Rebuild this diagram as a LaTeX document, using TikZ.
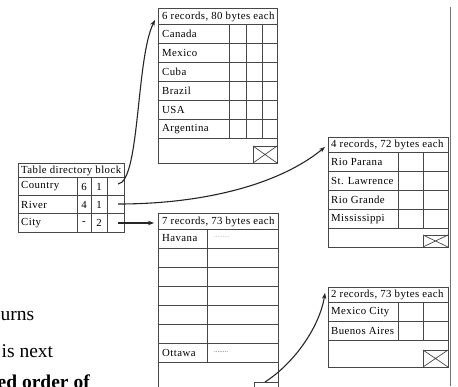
\documentclass[tikz,border=0pt]{standalone}
\usepackage{fontspec}
\setmainfont{Liberation Serif}
\newfontfamily\cellfont[LetterSpace=4]{Liberation Serif}
\usetikzlibrary{arrows.meta}
\begin{document}
\begin{tikzpicture}[x=1pt,y=-1pt,
  grid/.style={draw=black!72, line width=0.7pt},
  cell/.style={anchor=west, inner sep=0pt, font=\cellfont\fontsize{10.8}{12}\selectfont},
  num/.style={anchor=center, inner sep=0pt, font=\cellfont\fontsize{10.8}{12}\selectfont},
  link/.style={draw=black!85, line width=1.1pt, -{Stealth[length=6pt,width=4.5pt]}},
  bigtext/.style={anchor=base west, inner sep=0pt, font=\fontsize{19.5}{22}\selectfont},
  dotfill/.style={anchor=west, inner sep=0pt, font=\fontsize{7}{8}\selectfont}
]
\useasboundingbox (0,0) rectangle (458,386);

% right gray rule
\draw[black!55, line width=0.8pt] (450,7) -- (450,386);

% ---- Box 1: countries
\draw[grid] (158,8) rectangle (277,163);
\foreach \y in {24,43,62,81,100,119,138} \draw[grid] (158,\y) -- (277,\y);
\foreach \x in {229,246,262} \draw[grid] (\x,24) -- (\x,138);
\draw[grid] (253,146) rectangle (277,163);
\draw[grid] (253,146) -- (277,163) (253,163) -- (277,146);
\node[cell] (h1) at (162,16.5) {6 records, 80 bytes each};
\node[cell] (c1) at (162,34) {Canada};
\node[cell] (c2) at (162,53) {Mexico};
\node[cell] (c3) at (162,72) {Cuba};
\node[cell] (c4) at (162,91) {Brazil};
\node[cell] (c5) at (162,110) {USA};
\node[cell] (c6) at (162,129) {Argentina};

% ---- Directory block
\draw[grid] (18,163) rectangle (124,232);
\foreach \y in {177,195,213} \draw[grid] (18,\y) -- (124,\y);
\foreach \x in {77,91,107} \draw[grid] (\x,177) -- (\x,232);
\node[cell] (dh) at (21,170.5) {Table directory block};
\node[cell] (d1) at (21,186.5) {Country};
\node[cell] (d2) at (21,204.5) {River};
\node[cell] (d3) at (21,223) {City};
\node[num] (d1a) at (84,186.5) {6};
\node[num] (d1b) at (99,186.5) {1};
\node[num] (d2a) at (84,204.5) {4};
\node[num] (d2b) at (99,204.5) {1};
\node[num] (d3a) at (84,223) {-};
\node[num] (d3b) at (99,223) {2};

% ---- Box 2: rivers
\draw[grid] (328,137) rectangle (448,247);
\foreach \y in {152,171,190,209,228} \draw[grid] (328,\y) -- (448,\y);
\foreach \x in {398,423} \draw[grid] (\x,152) -- (\x,228);
\draw[grid] (423,235) rectangle (448,247);
\draw[grid] (423,235) -- (448,247) (423,247) -- (448,235);
\node[cell] (h2) at (331,145) {4 records, 72 bytes each};
\node[cell] (r1) at (331,162) {Rio Parana};
\node[cell] (r2) at (331,181) {St. Lawrence};
\node[cell] (r3) at (331,200) {Rio Grande};
\node[cell] (r4) at (331,219) {Mississippi};

% ---- Box 3: cities
\draw[grid] (158,392) -- (158,213) -- (278,213) -- (278,392);
\foreach \y in {229,248,267,286,305,324,343,362} \draw[grid] (158,\y) -- (278,\y);
\draw[grid] (207,229) -- (207,362);
\draw[grid] (254,392) -- (254,382) -- (278,382);
\node[cell] (h3) at (162,221.5) {7 records, 73 bytes each};
\node[cell] (t1) at (162,238.5) {Havana};
\node[cell] (t7) at (162,353) {Ottawa};
\node[dotfill, text=black!35] (t1d) at (214,237) {.........};
\node[dotfill, text=black!70] (t7d) at (214,352) {........};

% ---- Box 4: overflow cities
\draw[grid] (328,287) rectangle (448,367);
\foreach \y in {302,321,340} \draw[grid] (328,\y) -- (448,\y);
\foreach \x in {398,423} \draw[grid] (\x,302) -- (\x,340);
\draw[grid] (423,350) rectangle (448,367);
\draw[grid] (423,350) -- (448,367) (423,367) -- (448,350);
\node[cell] (h4) at (331,295) {2 records, 73 bytes each};
\node[cell] (m1) at (331,312) {Mexico City};
\node[cell] (m2) at (331,331) {Buenos Aires};

% ---- connectors
\coordinate (cS) at (118,184);
\coordinate (rS) at (118,204);
\coordinate (tS) at (118,223);
\coordinate (cE) at (155,20);
\coordinate (rE) at (325,147);
\coordinate (tE) at (154,223);
\coordinate (oS) at (265,382);
\coordinate (oE) at (325,293);
\draw[link] (cS) .. controls (140,182) and (136,58) .. (cE);
\draw[link] (rS) .. controls (205,204) and (280,184) .. (rE);
\draw[link] (tS) -- (tE);
\draw[link] (oS) .. controls (296,362) and (320,325) .. (oE);

% ---- cropped text at left
\node[bigtext] (w1) at (0.5,320) {urns};
\node[bigtext] (w2) at (1.5,357) {is next};
\node[bigtext, font=\bfseries\fontsize{19.5}{22}\selectfont] (w3) at (-2.5,388) {ed order of};
\end{tikzpicture}
\end{document}
